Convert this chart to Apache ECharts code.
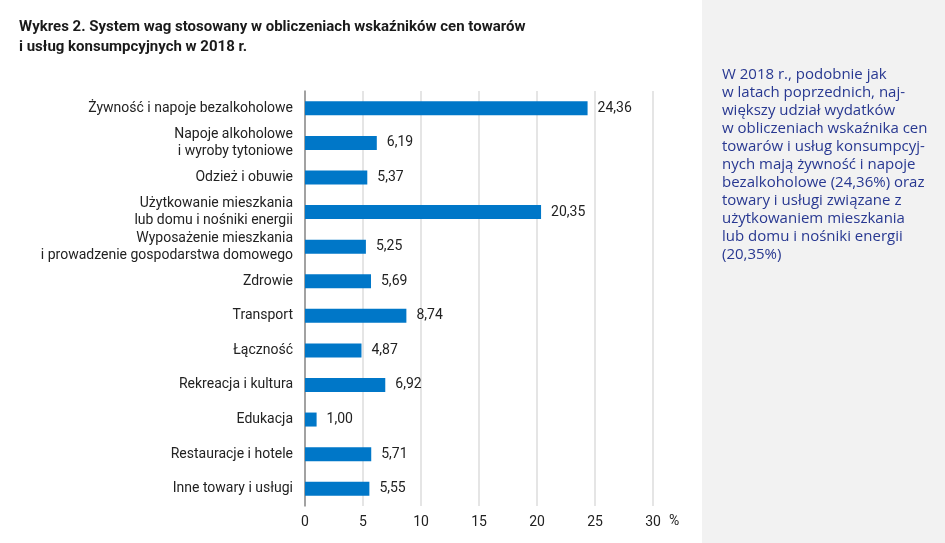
<!DOCTYPE html>
<html>
<head>
<meta charset="utf-8" />
<script type="text/javascript" src="https://cdn.jsdelivr.net/npm/echarts@6/dist/echarts.min.js"></script>
<title>Wykres 2</title>
<style>
  html, body { margin: 0; padding: 0; background: #fff; }
  #main { width: 945px; height: 543px; }
</style>
</head>
<body>
<div id="main"></div>
<script type="text/javascript">
var categories = [
  'Żywność i napoje bezalkoholowe',
  'Napoje alkoholowe\ni wyroby tytoniowe',
  'Odzież i obuwie',
  'Użytkowanie mieszkania\nlub domu i nośniki energii',
  'Wyposażenie mieszkania\ni prowadzenie gospodarstwa domowego',
  'Zdrowie',
  'Transport',
  'Łączność',
  'Rekreacja i kultura',
  'Edukacja',
  'Restauracje i hotele',
  'Inne towary i usługi'
];
var weights = [24.36, 6.19, 5.37, 20.35, 5.25, 5.69, 8.74, 4.87, 6.92, 1.00, 5.71, 5.55];
var noteLines = [
  'W 2018 r., podobnie jak',
  'w latach poprzednich, naj-',
  'większy udział wydatków',
  'w obliczeniach wskaźnika cen',
  'towarów i usług konsumpcyj-',
  'nych mają żywność i napoje',
  'bezalkoholowe (24,36%) oraz',
  'towary i usługi związane z',
  'użytkowaniem mieszkania',
  'lub domu i nośniki energii',
  '(20,35%)'
];

var myChart = echarts.init(document.getElementById('main'));
var font = 'Roboto, "Liberation Sans", sans-serif';

var option = {
  animation: false,
  title: {
    text: 'Wykres 2. System wag stosowany w obliczeniach wskaźników cen towarów\ni usług konsumpcyjnych w 2018 r.',
    left: 14,
    top: 12,
    textStyle: {
      fontFamily: font,
      fontWeight: 'bold',
      fontSize: 15,
      lineHeight: 20,
      color: '#1a1a1a'
    }
  },
  graphic: [
    {
      type: 'rect',
      z: -10,
      shape: { x: 702, y: 0, width: 243, height: 543 },
      style: { fill: '#f2f2f2' }
    },
    {
      type: 'text',
      left: 722,
      top: 66,
      style: {
        text: noteLines.join('\n'),
        fontFamily: '"Open Sans", Roboto, sans-serif',
        fontSize: 15,
        lineHeight: 18,
        fill: '#283891'
      }
    }
  ],
  grid: { left: 305, right: 292, top: 91, bottom: 37 },
  xAxis: {
    type: 'value',
    min: 0,
    max: 30,
    interval: 5,
    name: '%',
    nameLocation: 'end',
    nameGap: 16,
    nameTextStyle: {
      fontFamily: font, fontSize: 14, color: '#222',
      verticalAlign: 'top', padding: [8, 0, 0, 0]
    },
    axisLine: { show: false },
    axisTick: { show: false },
    axisLabel: { fontFamily: font, fontSize: 14, color: '#222', margin: 9 },
    splitLine: { show: true, lineStyle: { color: '#dcdcdc', width: 1.5 } }
  },
  yAxis: {
    type: 'category',
    inverse: true,
    data: categories,
    axisLine: { show: true, lineStyle: { color: '#8c8c8c', width: 1.5 } },
    axisTick: { show: false },
    axisLabel: {
      fontFamily: font, fontSize: 14, color: '#222', margin: 12,
      lineHeight: 17, align: 'right'
    }
  },
  series: [
    {
      name: 'Wagi',
      type: 'bar',
      data: weights,
      barWidth: 14,
      itemStyle: { color: '#0077c8' },
      label: {
        show: true,
        position: 'right',
        distance: 10,
        fontFamily: font,
        fontSize: 14,
        color: '#222',
        formatter: function (p) { return p.value.toFixed(2).replace('.', ','); }
      }
    }
  ]
};
myChart.setOption(option);
</script>
</body>
</html>
